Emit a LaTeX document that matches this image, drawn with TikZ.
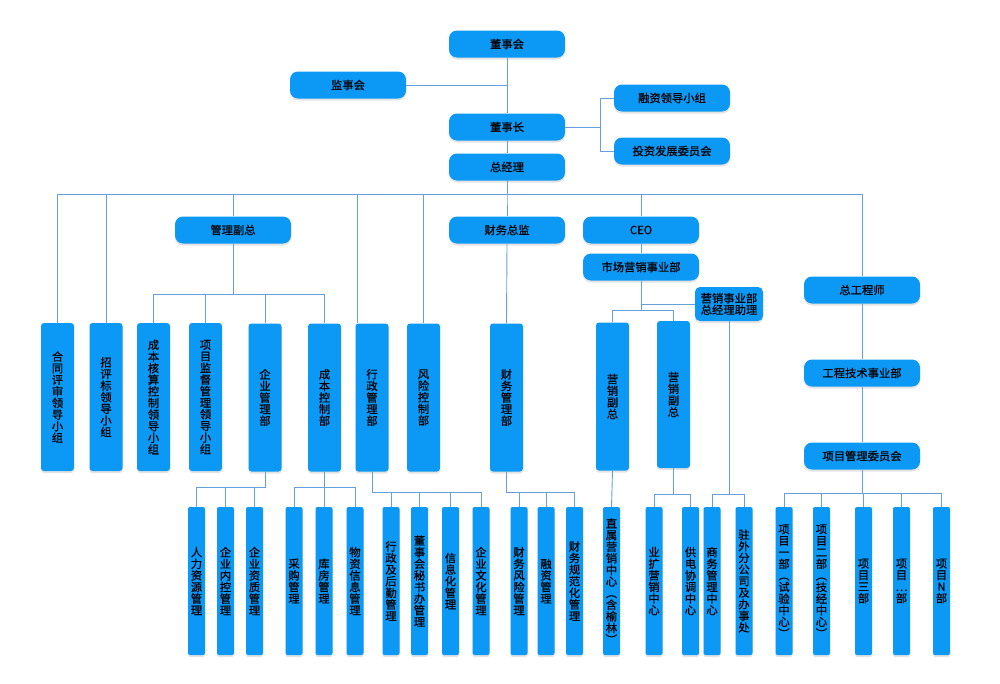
\documentclass[tikz,border=0pt]{standalone}
\usepackage{fontspec}
\newfontfamily\cjk[FakeBold=0.6]{Noto Sans CJK SC}
\usetikzlibrary{shadows}
\definecolor{boxblue}{RGB}{12,152,245}
\definecolor{linec}{RGB}{100,160,220}
\tikzset{
  base/.style={fill=boxblue, draw=none, inner sep=0pt, text=black,
    font=\cjk\fontsize{11.3}{11.6}\selectfont, align=center,
    drop shadow={shadow xshift=0pt, shadow yshift=-2pt, opacity=0.18, fill=black!60}},
  hbox/.style={base, rounded corners=8pt, minimum width=116pt, minimum height=27pt},
  tbox/.style={base, rounded corners=3pt, minimum width=33pt, minimum height=148pt},
  sbox/.style={base, rounded corners=2pt, minimum width=17pt, minimum height=148pt},
  conn/.style={draw=linec, line width=0.9pt}
}
\begin{document}
\begin{tikzpicture}[x=1pt,y=-1pt]
\useasboundingbox (0,0) rectangle (1000,683);
% top
\node[hbox] (dsh) at (507,44) {董事会};
\node[hbox] (jsh) at (348,85) {监事会};
\node[hbox] (dsz) at (507,127) {董事长};
\node[hbox] (zjl) at (507,167) {总经理};
\node[hbox] (rz) at (672,98) {融资领导小组};
\node[hbox] (tz) at (672,151) {投资发展委员会};
% second row
\node[hbox] (glfz) at (233,230) {管理副总};
\node[hbox] (cwzj) at (507,230) {财务总监};
\node[hbox] (ceo) at (641,230) {CEO};
\node[hbox] (scyx) at (641,267) {市场营销事业部};
\node[hbox, rounded corners=5pt, minimum width=68pt, minimum height=34pt] (zl) at (729,304) {营销事业部\\总经理助理};
\node[hbox] (zgcs) at (862,290) {总工程师};
\node[hbox] (gcjs) at (862,373) {工程技术事业部};
\node[hbox] (xmgl) at (862,456) {项目管理委员会};
% tall boxes
\node[tbox] (ht) at (57.5,397) {合\\同\\评\\审\\领\\导\\小\\组};
\node[tbox] (zpb) at (106,397) {招\\评\\标\\领\\导\\小\\组};
\node[tbox] (cbhs) at (153.5,397) {成\\本\\核\\算\\控\\制\\领\\导\\小\\组};
\node[tbox] (xmjd) at (205.5,397) {项\\目\\监\\督\\管\\理\\领\\导\\小\\组};
\node[tbox] (qygl) at (265,397.5) {企\\业\\管\\理\\部};
\node[tbox] (cbkz) at (324.5,397.5) {成\\本\\控\\制\\部};
\node[tbox] (xzgl) at (372,397.5) {行\\政\\管\\理\\部};
\node[tbox] (fxkz) at (423.5,397.5) {风\\险\\控\\制\\部};
\node[tbox] (cwgl) at (506.5,397.5) {财\\务\\管\\理\\部};
\node[tbox] (yx1) at (612.5,396.5) {营\\销\\副\\总};
\node[tbox, minimum height=147pt] (yx2) at (673.5,394.5) {营\\销\\副\\总};
% bottom boxes
\node[sbox] (rl) at (196.5,581) {人\\力\\资\\源\\管\\理};
\node[sbox] (nk) at (225.5,581) {企\\业\\内\\控\\管\\理};
\node[sbox] (zz) at (254.5,581) {企\\业\\资\\质\\管\\理};
\node[sbox] (cg) at (294,581) {采\\购\\管\\理};
\node[sbox] (kf) at (324,581) {库\\房\\管\\理};
\node[sbox] (wz) at (355,581) {物\\资\\信\\息\\管\\理};
\node[sbox] (hq) at (391,581) {行\\政\\及\\后\\勤\\管\\理};
\node[sbox] (ms) at (419.5,581) {董\\事\\会\\秘\\书\\办\\管\\理};
\node[sbox] (xx) at (450.5,581) {信\\息\\化\\管\\理};
\node[sbox] (wh) at (481,581) {企\\业\\文\\化\\管\\理};
\node[sbox] (fx) at (519,581) {财\\务\\风\\险\\管\\理};
\node[sbox] (rzgl) at (546,581) {融\\资\\管\\理};
\node[sbox] (gf) at (574.5,581) {财\\务\\规\\范\\化\\管\\理};
\node[sbox] (zs) at (611.5,581) {直\\属\\营\\销\\中\\心\\︵\\含\\榆\\林\\︶};
\node[sbox] (yk) at (654,581) {业\\扩\\营\\销\\中\\心};
\node[sbox] (gd) at (690.5,581) {供\\电\\协\\调\\中\\心};
\node[sbox] (sw) at (712,581) {商\\务\\管\\理\\中\\心};
\node[sbox] (zw) at (744,581) {驻\\外\\分\\公\\司\\及\\办\\事\\处};
\node[sbox] (xm1) at (784,581) {项\\目\\一\\部\\︵\\试\\验\\中\\心\\︶};
\node[sbox] (xm2) at (821.5,581) {项\\目\\二\\部\\︵\\技\\经\\中\\心\\︶};
\node[sbox] (xm3) at (863.5,581) {项\\目\\三\\部};
\node[sbox] (xmd) at (901.5,581) {项\\目\\…\\部};
\node[sbox] (xmn) at (941.5,581) {项\\目\\N\\部};
% connectors top
\draw[conn] (dsh.south) -- (dsz.north);
\draw[conn] (jsh.east) -- (jsh.east -| dsh.south);
\draw[conn] (dsz.south) -- (zjl.north);
\draw[conn] (dsz.east) -- ++(35,0) |- (rz.west);
\draw[conn] (dsz.east) -- ++(35,0) |- (tz.west);
\foreach \c in {ht,zpb,glfz,fxkz,cwzj,ceo,zgcs}
  \draw[conn] (zjl.south) -- ++(0,14) -| (\c.north);
\draw[conn] (zjl.south) -- ++(0,14) -| ([xshift=-15pt]xzgl.north);
\foreach \c in {cbhs,xmjd,qygl,cbkz}
  \draw[conn] (glfz.south) -- ++(0,51) -| (\c.north);
\draw[conn] (cwzj.south) -- (cwgl.north);
\draw[conn] (ceo.south) -- (scyx.north);
\draw[conn] (zgcs.south) -- (gcjs.north);
\draw[conn] (gcjs.south) -- (xmgl.north);
\foreach \c in {yx1,yx2}
  \draw[conn] (scyx.south) -- ++(0,30) -| (\c.north);
\draw[conn] (scyx.south) |- (zl.west);
% bottom
\foreach \c in {rl,nk,zz}
  \draw[conn] (qygl.south) -- ++(0,16) -| (\c.north);
\foreach \c in {cg,kf,wz}
  \draw[conn] (cbkz.south) -- ++(0,16) -| (\c.north);
\foreach \c in {hq,ms,xx,wh}
  \draw[conn] (xzgl.south) -- ++(0,21) -| (\c.north);
\foreach \c in {fx,rzgl,gf}
  \draw[conn] (cwgl.south) -- ++(0,21) -| (\c.north);
\draw[conn] (yx1.south) -- (zs.north);
\foreach \c in {yk,gd}
  \draw[conn] (yx2.south) -- ++(0,26) -| (\c.north);
\foreach \c in {sw,zw}
  \draw[conn] (zl.south) -- ++(0,173) -| (\c.north);
\foreach \c in {xm1,xm2,xm3,xmd,xmn}
  \draw[conn] (xmgl.south) -- ++(0,24) -| (\c.north);
\end{tikzpicture}
\end{document}
